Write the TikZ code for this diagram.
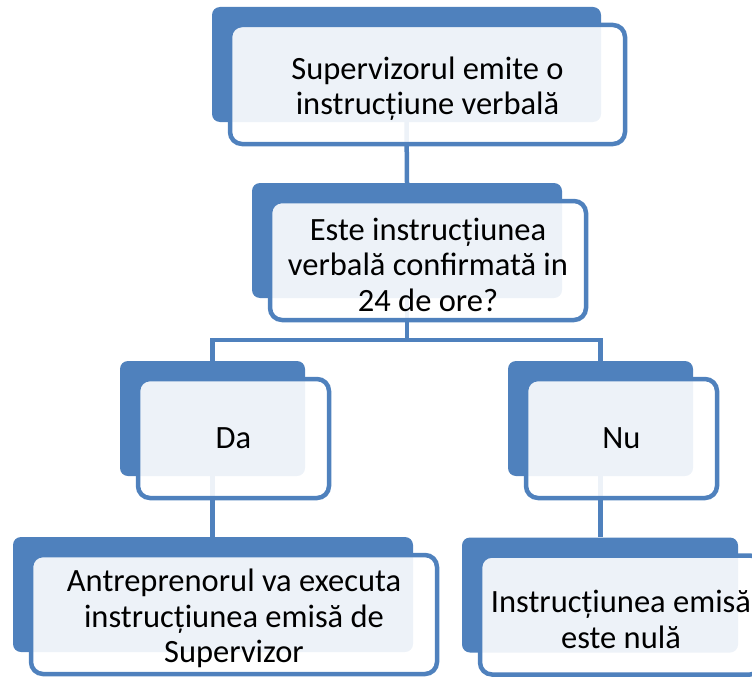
\documentclass[tikz,border=0pt]{standalone}
\usepackage{fontspec}
\setmainfont{Carlito}
\usetikzlibrary{calc}
\definecolor{accent}{HTML}{4F81BD}
\def\topgap{\rule{0pt}{31pt}}

\tikzset{
	back/.style={fill=accent, rounded corners=8pt, inner sep=0pt, minimum height=115pt},
	front/.style={draw=accent, line width=4.5pt, fill=white, fill opacity=0.9, text opacity=1,
		rounded corners=12pt, inner sep=0pt, align=center, minimum height=119pt,
		font=\fontsize{32.5}{35.5}\selectfont},
	link/.style={draw=accent, line width=4.5pt}
}

\begin{document}
\begin{tikzpicture}[x=1pt, y=-1pt]
			%%%%% START %%%%%
			\useasboundingbox (0, 0) rectangle (752, 677);
			
			% blue back panels
			\node[back, minimum width=389pt] (sup) at (406.5, 64.5) {};
			\node[back, minimum width=310pt] (conf) at (407, 240.5) {};
			\node[back, minimum width=185pt] (da) at (212.5, 418.5) {};
			\node[back, minimum width=185pt] (nu) at (600.5, 418.5) {};
			\node[back, minimum width=400pt] (antr) at (213, 594.5) {};
			\node[back, minimum width=276pt] (nula) at (600, 595) {};
			
			% connectors
			\coordinate (split) at (407, 340);
			\draw[link] (sup.south) -- (conf.north);
			\draw[link] (conf.south) -- (split);
			\draw[link] (da.north) |- (split) -| (nu.north);
			\draw[link] (da.south) -- (da.south |- antr.north);
			\draw[link] (nu.south) -- (nu.south |- nula.north);
			
			% front boxes
			\node[front, minimum width=395pt] (supT) at ($(sup)+(21, 20)$) {\topgap Supervizorul emite o\\instrucțiune verbală};
			\node[front, minimum width=316pt] (confT) at ($(conf)+(21, 20)$) {\topgap Este instrucțiunea\\verbală confirmată in\\24 de ore?};
			\node[front, minimum width=191pt] (daT) at ($(da)+(21, 20)$) {Da};
			\node[front, minimum width=191pt] (nuT) at ($(nu)+(21, 20)$) {Nu};
			\node[front, minimum width=406pt] (antrT) at ($(antr)+(21, 20)$) {\topgap Antreprenorul va executa\\instrucțiunea emisă de\\Supervizor};
			\node[front, minimum width=282pt] (nulaT) at ($(nula)+(21, 20)$) {\topgap Instrucțiunea emisă\\este nulă};
			%%%%% END %%%%%
\end{tikzpicture}
\end{document}
